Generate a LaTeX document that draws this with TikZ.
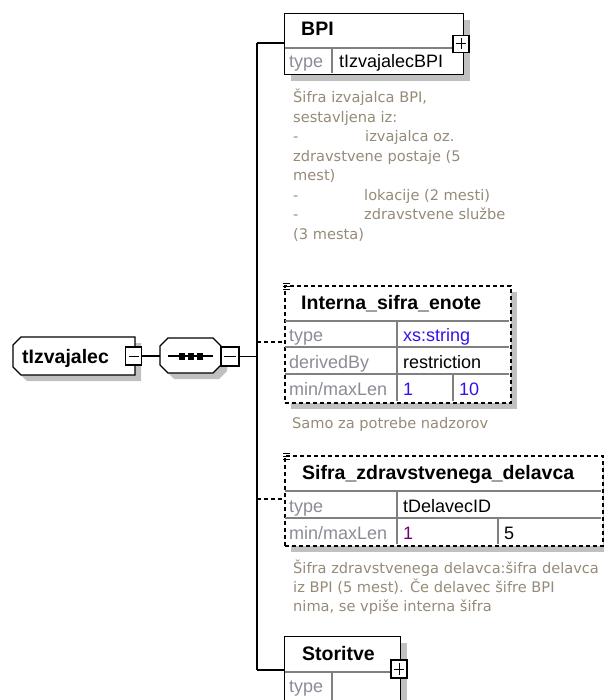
\documentclass[tikz,border=0pt]{standalone}
\usepackage{fontspec}
\setmainfont{Liberation Sans}
\newfontfamily\descfont{DejaVu Sans}
\usetikzlibrary{calc,shadows}
\definecolor{shadowc}{RGB}{192,192,192}
\definecolor{divgray}{RGB}{128,128,128}
\definecolor{lblgray}{RGB}{140,140,152}
\definecolor{desccol}{RGB}{150,138,120}
\definecolor{valblue}{RGB}{50,20,235}
\definecolor{valpurple}{RGB}{115,0,110}
\begin{document}
\begin{tikzpicture}[x=1pt,y=-1pt,
  box/.style={draw=black,line width=1.3pt,fill=white,inner sep=0pt},
  shad/.style={drop shadow={shadow xshift=6pt,shadow yshift=-6pt,fill=shadowc,opacity=1}},
  dbox/.style={box,line width=1.7pt,dash pattern=on 4pt off 3pt},
  divider/.style={draw=divgray,line width=1.1pt},
  hdr/.style={font=\bfseries\fontsize{19.5}{22}\selectfont,inner sep=0pt,anchor=base west},
  cell/.style={font=\fontsize{18}{20}\selectfont,inner sep=0pt,anchor=base west},
  lbl/.style={cell,text=lblgray},
  desc/.style={font=\descfont\fontsize{14.6}{19}\selectfont,text=desccol,inner sep=0pt,anchor=base west},
  conn/.style={draw=black,line width=1.2pt},
  dconn/.style={conn,line width=1.4pt,dash pattern=on 4pt off 3pt},
  pmbox/.style={draw=black,fill=white,line width=1.2pt,inner sep=0pt,minimum width=16pt,minimum height=17pt},
  minusbox/.style={pmbox,path picture={\draw[line width=1pt]
     ([xshift=3pt]path picture bounding box.west) -- ([xshift=-3pt]path picture bounding box.east);}},
  plusbox/.style={pmbox,path picture={\draw[line width=1pt]
     ([xshift=3pt]path picture bounding box.west) -- ([xshift=-3pt]path picture bounding box.east);
     \draw[line width=1pt]
     ([yshift=-3pt]path picture bounding box.north) -- ([yshift=3pt]path picture bounding box.south);}},
  anchorbox/.style={inner sep=0pt,anchor=north west}
]
\useasboundingbox (0,0) rectangle (603,700);

% ---------- tIzvajalec (complex type) ----------
\fill[shadowc] (27,343) -- (141,343) -- (141,381) -- (27,381) -- (19,373) -- (19,351) -- cycle;
\draw[box] (21,337) -- (135,337) -- (135,375) -- (21,375) -- (13,367) -- (13,345) -- cycle;
\node[anchorbox,minimum width=122pt,minimum height=38pt] (tiz) at (13,337) {};
\node[hdr] (tizT) at (22,363) {tIzvajalec};
\node[minusbox,minimum height=18pt] (tizM) at (133.5,356) {};

% ---------- sequence compositor ----------
\fill[shadowc] (174,344) -- (219,344) -- (227,352) -- (227,371) -- (219,379) -- (174,379) -- (166,371) -- (166,352) -- cycle;
\draw[box] (168,338) -- (213,338) -- (221,346) -- (221,365) -- (213,373) -- (168,373) -- (160,365) -- (160,346) -- cycle;
\node[anchorbox,minimum width=61pt,minimum height=35pt] (seq) at (160,338) {};
\draw[line width=1.2pt] (168,356) -- (213,356);
\fill (179,352.5) rectangle (185,359.5);
\fill (188,352.5) rectangle (194,359.5);
\fill (197,352.5) rectangle (203,359.5);
\node[minusbox,minimum width=18pt,minimum height=19pt] (seqM) at (230,356.5) {};

\draw[conn] (tizM.east) -- (tizM.east -| seq.west);

% ---------- spine ----------
\coordinate (vtop) at (257,43);
\coordinate (vmid) at (257,356);
\coordinate (c2) at (257,342);
\coordinate (c3) at (257,499);
\coordinate (vbot) at (257,670);
\draw[conn] (vtop) -- (vbot);
\draw[conn] (seqM.east) -- (seqM.east -| vmid);

% ---------- BPI ----------
\node[box,shad,anchorbox,minimum width=179pt,minimum height=61pt] (bpi) at (284,13) {};
\draw[divider] (285,48) -- (462,48);
\draw[divider] (332,48) -- (332,73);
\node[hdr] (bpiT) at (301,36) {BPI};
\node[lbl] (bpiL) at (289,68) {type};
\node[cell] (bpiV) at (339,68) {tIzvajalecBPI};
\node[plusbox] (bpiP) at (461,44) {};
\draw[conn] (vtop) -- (vtop -| bpi.west);

\node[desc] (bd1) at (293,103) {Šifra izvajalca BPI,};
\node[desc] (bd2) at (293,122.5) {sestavljena iz:};
\node[desc] (bd3) at (293,142) {\makebox[72pt][l]{-}izvajalca oz.};
\node[desc] (bd4) at (293,161.5) {zdravstvene postaje (5};
\node[desc] (bd5) at (293,181) {mest)};
\node[desc] (bd6) at (293,200.5) {\makebox[71pt][l]{-}lokacije (2 mesti)};
\node[desc] (bd7) at (293,220) {\makebox[71pt][l]{-}zdravstvene službe};
\node[desc] (bd8) at (293,239.5) {(3 mesta)};

% ---------- Interna_sifra_enote ----------
\node[dbox,shad,anchorbox,minimum width=226pt,minimum height=117pt] (int) at (284,285) {};
\draw[divider] (285,321) -- (509,321);
\draw[divider] (285,347) -- (509,347);
\draw[divider] (285,374) -- (509,374);
\draw[divider] (397,321) -- (397,401);
\draw[divider] (453,374) -- (453,401);
\draw[line width=1pt] (283,283.5) -- (290,283.5) (283,286.5) -- (290,286.5) (283,289.5) -- (290,289.5);
\node[hdr] (intT) at (301,309) {Interna\_sifra\_enote};
\node[lbl] (intL1) at (289,341.5) {type};
\node[cell,text=valblue] (intV1) at (403,341.5) {xs:string};
\node[lbl] (intL2) at (289,368) {derivedBy};
\node[cell] (intV2) at (403,368) {restriction};
\node[lbl] (intL3) at (289,395) {min/maxLen};
\node[cell,text=valblue] (intV3) at (403,395) {1};
\node[cell,text=valblue] (intV4) at (459,395) {10};
\draw[dconn] (c2) -- (c2 -| int.west);
\node[desc] (id1) at (292,428) {Samo za potrebe nadzorov};

% ---------- Sifra_zdravstvenega_delavca ----------
\node[dbox,shad,anchorbox,minimum width=318pt,minimum height=90pt] (szd) at (284,455) {};
\draw[divider] (285,491) -- (601,491);
\draw[divider] (285,518) -- (601,518);
\draw[divider] (397,491) -- (397,544);
\draw[divider] (498,518) -- (498,544);
\draw[line width=1pt] (283,453.5) -- (290,453.5) (283,456.5) -- (290,456.5) (283,459.5) -- (290,459.5);
\node[hdr] (szdT) at (302,479) {Sifra\_zdravstvenega\_delavca};
\node[lbl] (szdL1) at (289,512.5) {type};
\node[cell] (szdV1) at (403,512.5) {tDelavecID};
\node[lbl] (szdL2) at (289,539) {min/maxLen};
\node[cell,text=valpurple] (szdV2) at (403,539) {1};
\node[cell] (szdV3) at (504,539) {5};
\draw[dconn] (c3) -- (c3 -| szd.west);
\node[desc] (sd1) at (293,573) {Šifra zdravstvenega delavca:šifra delavca};
\node[desc] (sd2) at (293,592) {iz BPI (5 mest). Če delavec šifre BPI};
\node[desc] (sd3) at (293,611) {nima, se vpiše interna šifra};

% ---------- Storitve ----------
\node[box,shad,anchorbox,minimum width=116pt,minimum height=80pt] (sto) at (284,636) {};
\draw[divider] (285,672) -- (399,672);
\draw[divider] (332,672) -- (332,715);
\node[hdr] (stoT) at (302,660) {Storitve};
\node[lbl] (stoL) at (289,692) {type};
\node[plusbox,minimum height=18pt] (stoP) at (399,669) {};
\draw[conn] (vbot) -- (vbot -| sto.west);
\end{tikzpicture}
\end{document}
